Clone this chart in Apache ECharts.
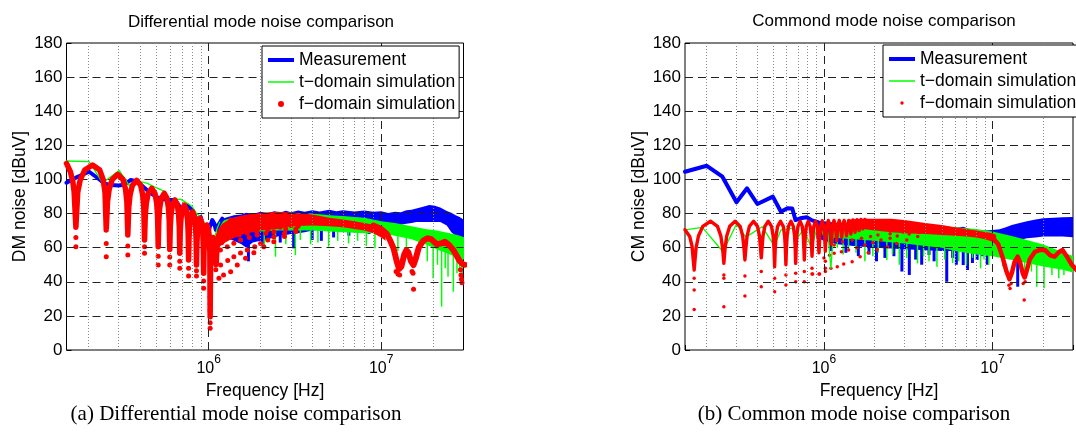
<!DOCTYPE html>
<html><head><meta charset="utf-8">
<script src="https://cdn.jsdelivr.net/npm/echarts@6/dist/echarts.min.js"></script>
<style>html,body{margin:0;padding:0;background:#fff}#c{width:1076px;height:432px}</style>
</head><body><div id="c"></div>
<script>
// ---------- axis / grid values ----------
const majorY = [20,40,60,80,100,120,140,160];
const majorX = [1e6, 1e7];
const minorX = [2e5,3e5,4e5,5e5,6e5,7e5,8e5,9e5,2e6,3e6,4e6,5e6,6e6,7e6,8e6,9e6,2e7];

// ---------- DM (differential mode) ----------
const dmMeasLow = [[150e3,98],[174e3,101.6],[203e3,104.5],[228e3,100.7],[250e3,97.5],[272e3,96.7],[300e3,96.5],[324e3,96.9],[354e3,99.7],[375e3,99],[395e3,98],[420e3,95.5],[442e3,93.5],[470e3,91.5],[505e3,89.5],[540e3,88.5],[577e3,88],[630e3,88],[660e3,86],[689e3,83],[720e3,82.5],[753e3,85],[780e3,83],[805e3,82],[835e3,78.5],[860e3,76],[900e3,78],[940e3,71],[980e3,66.4],[1015e3,72],[1050e3,76.2],[1080e3,74],[1100e3,70.4],[1150e3,74],[1200e3,77]];
// [freq, low, high]
const dmMeasBand = [[1.15e6,68,75.5],[1.25e6,66,77.5],[1.4e6,64,79],[1.55e6,62,79.5],[1.65e6,60,80.5],[1.8e6,63,79.8],[2.0e6,64,81],[2.2e6,65,80.2],[2.4e6,66,81.3],[2.6e6,67,80.6],[2.8e6,67.5,81.6],[3.0e6,68,80.8],[3.3e6,68.5,81.8],[3.6e6,69,81],[4.0e6,70,82],[4.4e6,70.5,81.2],[5.0e6,71,82.2],[5.5e6,71.5,81.4],[6.0e6,72,82],[7.0e6,72.5,81.2],[8.0e6,73,81.8],[9.0e6,73,81],[1.0e7,73,81.3],[1.1e7,73,80.3],[1.2e7,73,81],[1.3e7,73.5,80.8],[1.4e7,74,82],[1.5e7,74.5,82.3],[1.6e7,75,83],[1.75e7,75,84],[1.9e7,75,85],[2.05e7,75,84.6],[2.2e7,75,83.5],[2.4e7,73,81.5],[2.55e7,69,80.5],[2.7e7,67,79],[2.85e7,66,78],[3.05e7,66,76]];
const dmMeasSpikes = [[1.7e6,52,72],[2.05e6,62,72],[2.6e6,63,72],[3.11e6,59.6,74],[3.98e6,64.5,74],[4.5e6,64,74],[5.3e6,66,74],[6.5e6,67,75],[8.5e6,68,75]];
const dmTLow = [[150e3,110.8],[203e3,110.4],[243e3,98],[303e3,105.3],[346e3,96.5],[390e3,99],[442e3,97.7],[500e3,95],[552e3,93.2],[603e3,84],[644e3,88.5],[689e3,88.3],[753e3,86],[805e3,84],[850e3,80],[899e3,78.2],[961e3,73.3],[1000e3,70],[1027e3,68.4],[1073e3,64.5],[1120e3,71.3],[1160e3,75]];
const dmTBand = [[1.15e6,66,75],[1.3e6,68,77],[1.6e6,69,78.5],[2.0e6,69.5,79.5],[2.5e6,70,80],[3.0e6,70,80.5],[4.0e6,70,80],[5.0e6,69.5,79],[6.0e6,69,78.5],[8.0e6,68.5,77.5],[1.0e7,68.4,75.5],[1.2e7,67,74.5],[1.5e7,65,72.5],[1.8e7,62,71],[2.1e7,59,70],[2.5e7,56,68.5],[2.8e7,54,67.3],[3.05e7,53,66]];
const dmTSpikes = [[2.1e6,60,72],[2.44e6,54.7,72],[2.8e6,62,72],[3.18e6,55.7,72],[3.4e6,64.5,72],[3.9e6,62,72],[4.3e6,63,72],[4.96e6,60.6,72],[5.6e6,64,72],[6.47e6,62.5,72],[7.3e6,64,72],[8.2e6,61,72],[9.2e6,59.6,72],[1.12e7,61,70],[1.25e7,58,68],[1.4e7,58.6,68],[1.65e7,56,66],[1.85e7,52,64],[2.0e7,42,62],[2.12e7,50,62],[2.24e7,25.4,60],[2.35e7,48,60],[2.44e7,43,58],[2.62e7,34.2,58],[2.75e7,45,56],[2.85e7,46.9,56],[2.95e7,40,54]];
const dmFArch = [[150e3,109.4],[158e3,104.5],[163e3,99],[166e3,93],[170e3,72],
[174.25e3,92.5],[180.2e3,99.8],[191.25e3,105.5],[212.5e3,108.5],[233.75e3,105.5],[244.8e3,99.8],[250.75e3,92.5],[255e3,70.4],
[259.25e3,87],[265.2e3,94.3],[276.25e3,100],[297.5e3,103],[318.75e3,100],[329.8e3,94.3],[335.75e3,87],[340e3,67.4],
[344.25e3,83.5],[350.2e3,90.8],[361.25e3,96.5],[382.5e3,99.5],[403.75e3,96.5],[414.8e3,90.8],[420.75e3,83.5],[425e3,64.5],
[429.25e3,78.8],[435.2e3,86.1],[446.25e3,91.8],[467.5e3,94.8],[488.75e3,91.8],[499.8e3,86.1],[505.75e3,78.8],[510e3,60.6],
[514.25e3,75.9],[520.2e3,83.2],[531.25e3,88.9],[552.5e3,91.9],[573.75e3,88.9],[584.8e3,83.2],[590.75e3,75.9],[595e3,59],
[599.25e3,72],[605.2e3,79.3],[616.25e3,85],[637.5e3,88],[658.75e3,85],[669.8e3,79.3],[675.75e3,72],[680e3,56.7],
[684.25e3,69],[690.2e3,76.3],[701.25e3,82],[722.5e3,85],[743.75e3,82],[754.8e3,76.3],[760.75e3,69],[765e3,52.8],
[769.25e3,65],[775.2e3,72.3],[786.25e3,78],[807.5e3,81],[828.75e3,78],[839.8e3,72.3],[845.75e3,65],[850e3,49.8],
[854.25e3,61.2],[860.2e3,68.5],[871.25e3,74.2],[892.5e3,77.2],[913.75e3,74.2],[924.8e3,68.5],[930.75e3,61.2],[935e3,45],
[939.25e3,57.3],[945.2e3,64.6],[956.25e3,70.3],[977.5e3,73.3],[998.75e3,70.3],[1009.8e3,64.6],[1015.75e3,57.3],[1020e3,19.5],
[1026e3,50],[1034e3,58],[1048e3,63.5],[1062e3,66],[1078e3,64],[1092e3,58],[1105e3,50],[1118e3,60],[1140e3,66],[1162e3,69],[1190e3,63],[1215e3,70],[1250e3,73],[1275e3,68],[1310e3,74],[1350e3,76]];
const dmFBand = [[1.08e6,56,64],[1.12e6,59,70.4],[1.2e6,62,74],[1.35e6,65,77.2],[1.6e6,68,79.1],[2.0e6,70,80.5],[2.5e6,71,81],[3.0e6,72.5,80.6],[4.0e6,73,79.5],[5.0e6,72.5,77.5],[6.0e6,72,76.5],[7.0e6,71,75.5],[8.0e6,70,74.5],[9.0e6,68.5,73.5],[1.0e7,66,72],[1.06e7,64,70]];
const dmFTail = [[9e6,73],[1.0e7,71],[1.08e7,68],[1.13e7,64],[1.18e7,59.6],[1.23e7,52],[1.27e7,47.5],[1.31e7,49],[1.36e7,56],[1.4e7,58.5],[1.44e7,57],[1.49e7,52],[1.54e7,49.8],[1.58e7,53],[1.65e7,60],[1.75e7,64],[1.85e7,65.5],[1.95e7,65],[2.1e7,62],[2.22e7,62.5],[2.34e7,63.5],[2.48e7,61.5],[2.62e7,58.6],[2.75e7,55],[2.85e7,52.2],[2.95e7,50.5],[3.05e7,50]];
const dmFDots = [[170e3,60.6],[170e3,66],[255e3,54.7],[255e3,62.5],[340e3,55.7],[340e3,61],[425e3,56.7],[425e3,60.5],[510e3,49.8],[510e3,55],[595e3,49.8],[595e3,54.5],[680e3,47.9],[680e3,52],[765e3,43.4],[765e3,48],[850e3,43.4],[850e3,46.5],[935e3,36.2],[935e3,40.5],[1020e3,12.7],[1020e3,16],[1020e3,23],[1020e3,27],[1020e3,31],[1.22e7,46],[1.25e7,44.5],[1.28e7,44],[1.51e7,46],[1.53e7,45],[1.54e7,35.6],[2.88e7,47],[2.9e7,44],[2.92e7,41.5],[2.94e7,39.5]];
const dmFFan = [[1.147e6,42],[1.22e6,44],[1.341e6,45.9],[1.465e6,49.8],[1.636e6,53.8],[1.828e6,57],[2.088e6,60.6],[2.386e6,63.5],[2.75e6,66.5],[3.2e6,69.5],
[1.1e6,47],[1.173e6,49.8],[1.29e6,52.5],[1.4e6,54.7],[1.53e6,56.8],[1.674e6,58.6],[1.85e6,60.6],[2.0e6,62.5],[2.2e6,64.5],[2.386e6,66.4],[2.75e6,68.5],[3.2e6,71],
[1.073e6,56.7],[1.17e6,58.7],[1.282e6,60.6],[1.4e6,62.6],[1.531e6,64.5],[1.72e6,66],[1.912e6,67.4],[2.15e6,68.5],[2.386e6,69.4],[2.8e6,71],[3.3e6,72.5],
[1.073e6,62.5],[1.2e6,64.5],[1.341e6,66.4],[1.5e6,67.5],[1.674e6,68.4],[1.9e6,69.5],[2.2e6,70.5],[2.6e6,72],[3.0e6,73]];

// ---------- CM (common mode) ----------
const cmMeasLow = [[150e3,104.5],[202e3,108],[250e3,101.6],[303e3,86.6],[350e3,94.8],[403e3,85.6],[498e3,89.9],[556e3,81.1],[607e3,83.1],[649e3,83],[678e3,76.2],[724e3,77.2],[791e3,77.8],[850e3,76],[920e3,75]];
const cmMeasBand = [[0.9e6,66,76],[1.0e6,64,75.5],[1.2e6,62,74.5],[1.5e6,61,73.5],[2.0e6,60,72.5],[2.5e6,59.5,72],[3.0e6,59,71.5],[4.0e6,58.5,71],[5.0e6,58,70.5],[6.0e6,58,71.5],[6.7e6,58,72.3],[7.5e6,58,70.5],[9.0e6,58.5,70],[1.0e7,59,70.4],[1.1e7,60,70.8],[1.2e7,62,72],[1.3e7,63.5,73.3],[1.45e7,64.5,74.5],[1.6e7,65.5,75.5],[1.8e7,66,76.5],[2.0e7,66.5,77.2],[2.3e7,66.5,77.5],[2.6e7,66.5,77.8],[3.1e7,66,78]];
const cmMeasSpikes = [[1.1e6,58,64],[1.35e6,57,64],[1.6e6,55,64],[1.85e6,56,64],[2.05e6,52,64],[2.3e6,54,64],[2.6e6,55,64],[2.9e6,46,64],[3.21e6,44,64],[3.5e6,53,64],[3.8e6,50,64],[4.2e6,55.7,64],[4.5e6,52,64],[5.35e6,40,64],[5.8e6,54,64],[6.1e6,50,64],[6.7e6,49.8,64],[7.1e6,46.9,64],[7.6e6,51,64],[8.1e6,52.8,64],[8.7e6,55,64],[9.3e6,50,64],[1.41e7,37.1,66]];
const cmTLow = [[150e3,70.4],[190e3,71.9],[252e3,57.6],[302e3,73.6],[345e3,66.2],[430e3,72.3],[508e3,61],[556e3,70.4],[649e3,71.3],[693e3,65.5],[760e3,71],[845e3,59.6],[903e3,70.4],[960e3,72],[1000e3,66],[1050e3,71],[1100e3,47.9],[1140e3,70]];
const cmTBand = [[1.1e6,66,72.5],[1.5e6,65,73.5],[2.0e6,64,74],[3.0e6,62.5,73.5],[4.0e6,61,73],[5.0e6,60,72.5],[6.0e6,58,72],[8.0e6,56,71],[1.0e7,55,69.5],[1.3e7,52.8,66.8],[1.6e7,51,64.5],[2.0e7,49,61.8],[2.6e7,47,57.5],[3.1e7,45,54.5]];
const cmTSpikes = [[1.2e6,60,70],[1.3e6,56,70],[1.4e6,58.6,70],[1.55e6,57,70],[1.75e6,52,70],[1.95e6,55,70],[2.1e6,57,70],[2.36e6,52.8,70],[2.55e6,56,70],[2.8e6,50,70],[3.1e6,54,70],[3.59e6,50.8,70],[3.9e6,55,70],[4.2e6,52,70],[4.68e6,48.8,70],[5.2e6,53,70],[5.8e6,51,70],[6.3e6,52,70],[7e6,50,70],[7.6e6,54,70],[8.49e6,47.9,68],[8.9e6,53,68],[9.5e6,50,68],[1.15e7,49,66],[1.55e7,42,62],[1.7e7,46,62],[1.83e7,37.1,60],[2.02e7,36.2,60],[2.25e7,44,58],[2.47e7,42,56],[2.65e7,44,55]];
const cmFArch = [[150e3,70.5],[160e3,66.5],[165e3,61],[170e3,46.9],
[174.25e3,59.5],[180.2e3,66.8],[191.25e3,72.5],[212.5e3,75.5],[233.75e3,72.5],[244.8e3,66.8],[250.75e3,59.5],[255e3,50.8],
[259.25e3,59.5],[265.2e3,66.8],[276.25e3,72.5],[297.5e3,75.5],[318.75e3,72.5],[329.8e3,66.8],[335.75e3,59.5],[340e3,52.8],
[344.25e3,59.5],[350.2e3,66.8],[361.25e3,72.5],[382.5e3,75.5],[403.75e3,72.5],[414.8e3,66.8],[420.75e3,59.5],[425e3,54],
[429.25e3,59.5],[435.2e3,66.8],[446.25e3,72.5],[467.5e3,75.5],[488.75e3,72.5],[499.8e3,66.8],[505.75e3,59.5],[510e3,48.8],
[514.25e3,59.5],[520.2e3,66.8],[531.25e3,72.5],[552.5e3,75.5],[573.75e3,72.5],[584.8e3,66.8],[590.75e3,59.5],[595e3,50],
[599.25e3,59.5],[605.2e3,66.8],[616.25e3,72.5],[637.5e3,75.5],[658.75e3,72.5],[669.8e3,66.8],[675.75e3,59.5],[680e3,50.8],
[684.25e3,59.5],[690.2e3,66.8],[701.25e3,72.5],[722.5e3,75.5],[743.75e3,72.5],[754.8e3,66.8],[760.75e3,59.5],[765e3,52.8],
[769.25e3,59.5],[775.2e3,66.8],[786.25e3,72.5],[807.5e3,75.5],[828.75e3,72.5],[839.8e3,66.8],[845.75e3,59.5],[850e3,55],
[854.25e3,60],[860.2e3,66.8],[871.25e3,72.5],[892.5e3,75.5],[913.75e3,72.5],[924.8e3,66.8],[930.75e3,60],[935e3,57],
[939.25e3,61],[945.2e3,67],[956.25e3,72.5],[977.5e3,75.8],[998.75e3,72.5],[1009.8e3,67],[1015.75e3,61],[1020e3,58],
[1030e3,68],[1041.25e3,73],[1062.5e3,76],[1083.75e3,73],[1095e3,68],[1105e3,62],
[1126.25e3,73],[1147.5e3,76],[1168.75e3,73],[1190e3,64],
[1211.25e3,73],[1232.5e3,76],[1253.75e3,73],[1275e3,66],
[1296.25e3,73.5],[1317.5e3,76],[1338.75e3,73.5],[1360e3,67],
[1402.5e3,76],[1445e3,68],[1487.5e3,76.2],[1530e3,69],[1572.5e3,76.4],[1615e3,70],[1657.5e3,76.5],[1700e3,71],[1750e3,76.5]];
const cmFBand = [[1.4e6,72,76.5],[1.7e6,71,77],[2.0e6,70,77],[2.5e6,69,77],[3.0e6,68.5,76.2],[4.0e6,68,74.5],[5.0e6,67.5,73.3],[6.0e6,67,72],[7.0e6,66.5,71],[8.0e6,66,70],[9.0e6,65,69.2],[1.0e7,63.5,68.4],[1.05e7,62,67.5]];
const cmFTail = [[9e6,67.5],[1.0e7,66],[1.08e7,62],[1.15e7,54],[1.21e7,46],[1.26e7,41.5],[1.3e7,45],[1.35e7,51.5],[1.41e7,54.7],[1.46e7,51],[1.51e7,45],[1.55e7,42.5],[1.59e7,46],[1.66e7,53],[1.78e7,57.5],[1.93e7,58.8],[2.05e7,58.6],[2.2e7,55.5],[2.33e7,54.7],[2.48e7,57.5],[2.6e7,58.6],[2.75e7,55],[2.95e7,50],[3.15e7,47]];
const cmFDots = [[170e3,42],[170e3,35.2],[170e3,23.8],[255e3,44],[255e3,42],[255e3,25.4],[340e3,43.4],[340e3,31.7],[425e3,46],[425e3,37.1],[510e3,42],[510e3,34.2],[595e3,44],[595e3,38.1],[680e3,45],[680e3,40],[765e3,46],[765e3,40],[850e3,48],[850e3,44.6],[935e3,44.6],[1020e3,52],[1020e3,47.9],[1.25e7,38],[1.27e7,36],[1.29e7,39],[1.52e7,39],[1.54e7,29.3],[1.56e7,40]];
const cmFFan = [[8.57e5,44.6],[9.43e5,44.6],[1.02e6,46],[1.1e6,47.9],[1.2e6,48.8],[1.31e6,50.4],[1.47e6,51.8],[1.64e6,54.7],[1.83e6,57],[2.07e6,58.8],[2.38e6,60.6],[2.7e6,62.5],[3.1e6,64.5],[3.6e6,66.5],
[1.0e6,54],[1.08e6,55.5],[1.15e6,56.7],[1.27e6,57.6],[1.4e6,58.6],[1.57e6,60],[1.75e6,61.6],[1.95e6,63],[2.18e6,64.5],[2.47e6,65.5],[2.72e6,66.8],[3.2e6,68],[3.67e6,69],
[1.15e6,61.5],[1.29e6,63.5],[1.47e6,64.5],[1.67e6,65.5],[1.89e6,66.5],[2.09e6,67.4],[2.47e6,68.2],[2.94e6,69.2],[3.5e6,70]];

// ---------- styling ----------
const F = "'Liberation Sans', Arial, Helvetica, sans-serif";
const SERIF = "'Liberation Serif', 'Times New Roman', serif";
const BLUE = '#0000ff', GREEN = '#00ff00', RED = '#ff0000';
const N_MEAS = 'Measurement', N_T = 't\u2212domain simulation', N_F = 'f\u2212domain simulation';

function gridLines() {
  return {
    silent: true, symbol: ['none','none'], z: 3, animation: false, label: {show: false},
    emphasis: {disabled: true},
    data: [].concat(
      minorX.map(v => ({xAxis: v, lineStyle: {type: [1,2], color: '#8a8a8a', width: 1}})),
      majorX.map(v => ({xAxis: v, lineStyle: {type: [8,5], color: '#222', width: 1}})),
      majorY.map(v => ({yAxis: v, lineStyle: {type: [8,5], color: '#222', width: 1}}))
    )
  };
}

function bandSeries(name, gi, band, spikes, color, spikeWidth) {
  return {
    type: 'custom', name: name, xAxisIndex: gi, yAxisIndex: gi, clip: true, silent: true,
    data: [[band[0][0], band[0][2]]], encode: {x: 0, y: 1},
    renderItem: function (params, api) {
      const up = band.map(p => api.coord([p[0], p[2]]));
      const dn = band.slice().reverse().map(p => api.coord([p[0], p[1]]));
      const children = [{type: 'polygon', shape: {points: up.concat(dn)}, style: {fill: color}}];
      spikes.forEach(s => {
        const a = api.coord([s[0], s[2]]), b = api.coord([s[0], s[1]]);
        children.push({type: 'line', shape: {x1: a[0], y1: a[1], x2: b[0], y2: b[1]}, style: {stroke: color, lineWidth: spikeWidth}});
      });
      return {type: 'group', children: children};
    }
  };
}

function lineSeries(name, gi, data, color, width, extra) {
  return Object.assign({
    type: 'line', name: name, xAxisIndex: gi, yAxisIndex: gi, data: data,
    symbol: 'none', showSymbol: false, silent: true,
    lineStyle: {color: color, width: width, cap: 'round', join: 'round'}, itemStyle: {color: color}
  }, extra || {});
}

function panelSeries(gi, d, dotSize, archWidth, tailWidth) {
  return [
    lineSeries(N_MEAS, gi, d.measLow, BLUE, 4, {markLine: gridLines()}),
    bandSeries(N_MEAS, gi, d.measBand, d.measSpikes, BLUE, 3),
    lineSeries(N_T, gi, d.tLow, GREEN, 1.3),
    bandSeries(N_T, gi, d.tBand, d.tSpikes, GREEN, 1.5),
    {type: 'scatter', name: N_F, xAxisIndex: gi, yAxisIndex: gi, silent: true,
     data: d.fDots.concat(d.fFan), symbol: 'circle', symbolSize: dotSize, itemStyle: {color: RED, opacity: 1}},
    bandSeries(N_F, gi, d.fBand, [], RED, 1),
    lineSeries(N_F, gi, d.fArch, RED, archWidth),
    lineSeries(N_F, gi, d.fTail, RED, tailWidth)
  ];
}

const labelFmt = function (v) {
  const e = Math.log10(v), r = Math.round(e);
  return Math.abs(e - r) < 1e-6 ? '{b|10}{s|' + r + '}' : '';
};

function xAx(gi) {
  return {
    type: 'log', logBase: 10, gridIndex: gi, min: 1.5e5, max: 3e7,
    name: 'Frequency [Hz]', nameLocation: 'middle', nameGap: 28,
    nameTextStyle: {fontSize: 17.5, fontFamily: F, color: '#000'},
    axisLine: {show: false}, splitLine: {show: false},
    axisTick: {show: true, inside: true, length: 5, lineStyle: {color: '#000'}},
    axisLabel: {margin: 4, formatter: labelFmt, color: '#000',
      rich: {b: {fontSize: 16, fontFamily: F, color: '#000', lineHeight: 30},
             s: {fontSize: 12, fontFamily: F, color: '#000', lineHeight: 12, verticalAlign: 'top'}}}
  };
}
function yAx(gi, name) {
  return {
    type: 'value', gridIndex: gi, min: 0, max: 180, interval: 20,
    name: name, nameLocation: 'middle', nameGap: 37,
    nameTextStyle: {fontSize: 17.5, fontFamily: F, color: '#000'},
    axisLine: {show: false}, splitLine: {show: false},
    axisTick: {show: true, inside: true, length: 5, lineStyle: {color: '#000'}},
    axisLabel: {margin: 4, fontSize: 17, fontFamily: F, color: '#000'}
  };
}
const ICON_THICK = 'path://M0,0M26,0M26,14M0,14M0,5L26,5L26,9L0,9Z';
const ICON_THIN = 'path://M0,0M26,0M26,14M0,14M0,6.25L26,6.25L26,7.75L0,7.75Z';
function legendFor(left, top, dotIcon) {
  return {
    left: left, top: top, orient: 'vertical', z: 10, selectedMode: false,
    backgroundColor: '#fff', borderColor: '#000', borderWidth: 1, borderRadius: 0,
    padding: [5, 4, 5, 6], itemGap: 4, itemWidth: 26, itemHeight: 14,
    textStyle: {fontSize: 17.5, fontFamily: F, color: '#000'},
    data: [
      {name: N_MEAS, icon: ICON_THICK, itemStyle: {color: BLUE, borderWidth: 0}},
      {name: N_T, icon: ICON_THIN, itemStyle: {color: GREEN, borderWidth: 0}},
      {name: N_F, icon: dotIcon, itemStyle: {color: RED, borderWidth: 0}}
    ]
  };
}

const dm = {measLow: dmMeasLow, measBand: dmMeasBand, measSpikes: dmMeasSpikes, tLow: dmTLow, tBand: dmTBand, tSpikes: dmTSpikes,
  fArch: dmFArch, fBand: dmFBand, fTail: dmFTail, fDots: dmFDots, fFan: dmFFan};
const cm = {measLow: cmMeasLow, measBand: cmMeasBand, measSpikes: cmMeasSpikes, tLow: cmTLow, tBand: cmTBand, tSpikes: cmTSpikes,
  fArch: cmFArch, fBand: cmFBand, fTail: cmFTail, fDots: cmFDots, fFan: cmFFan};

const titleStyle = {fontSize: 17, fontWeight: 'normal', fontFamily: F, color: '#000'};
const capStyle = {fontSize: 21, fontWeight: 'normal', fontFamily: SERIF, color: '#000'};

const chart = echarts.init(document.getElementById('c'), null, {renderer: 'canvas'});
chart.setOption({
  animation: false,
  backgroundColor: '#fff',
  title: [
    {text: 'Differential mode noise comparison', left: 261, top: 22, textAlign: 'center', textVerticalAlign: 'middle', padding: 0, textStyle: titleStyle},
    {text: 'Commond mode noise comparison', left: 884, top: 21, textAlign: 'center', textVerticalAlign: 'middle', padding: 0, textStyle: titleStyle},
    {text: '(a) Differential mode noise comparison', left: 236, top: 414, textAlign: 'center', textVerticalAlign: 'middle', padding: 0, textStyle: capStyle},
    {text: '(b) Common mode noise comparison', left: 854, top: 414, textAlign: 'center', textVerticalAlign: 'middle', padding: 0, textStyle: capStyle}
  ],
  grid: [
    {left: 66.5, top: 43, width: 397, height: 307, show: true, borderColor: '#000', borderWidth: 1, backgroundColor: 'transparent', containLabel: false},
    {left: 685, top: 43, width: 398.6, height: 307, show: true, borderColor: '#000', borderWidth: 1, backgroundColor: 'transparent', containLabel: false}
  ],
  xAxis: [xAx(0), xAx(1)],
  yAxis: [yAx(0, 'DM noise [dBuV]'), yAx(1, 'CM noise [dBuV]')],
  legend: [
    legendFor(262, 46, 'path://M0,0M26,0M26,14M0,14M10,7A3,3,0,1,0,16,7A3,3,0,1,0,10,7Z'),
    legendFor(883, 45, 'path://M0,0M26,0M26,14M0,14M11.3,7A1.7,1.7,0,1,0,14.7,7A1.7,1.7,0,1,0,11.3,7Z')
  ],
  series: panelSeries(0, dm, 5, 5.5, 6).concat(panelSeries(1, cm, 3.5, 3.4, 4.5))
});
</script></body></html>
